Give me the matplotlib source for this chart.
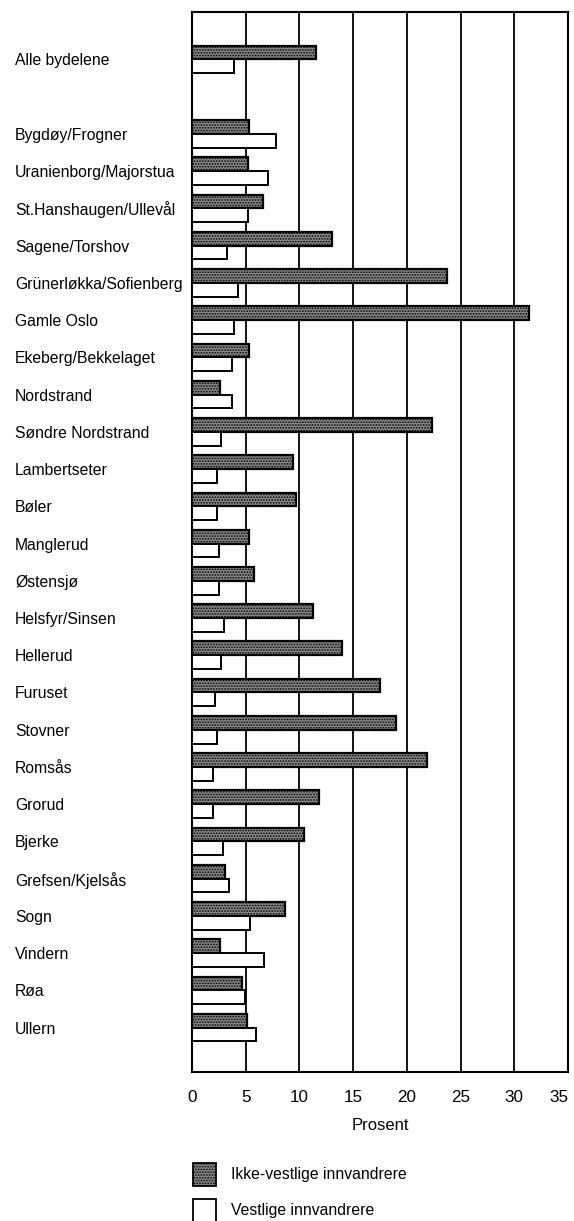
import matplotlib
matplotlib.use("Agg")
import matplotlib.pyplot as plt
from matplotlib.patches import Rectangle
import numpy as np

plt.rcParams['font.family'] = ['Liberation Sans', 'DejaVu Sans']
plt.rcParams['hatch.linewidth'] = 0.8

categories = [
    "Alle bydelene",
    "Bygdøy/Frogner", "Uranienborg/Majorstua", "St.Hanshaugen/Ullevål",
    "Sagene/Torshov", "Grünerløkka/Sofienberg", "Gamle Oslo",
    "Ekeberg/Bekkelaget", "Nordstrand", "Søndre Nordstrand", "Lambertseter",
    "Bøler", "Manglerud", "Østensjø", "Helsfyr/Sinsen", "Hellerud",
    "Furuset", "Stovner", "Romsås", "Grorud", "Bjerke", "Grefsen/Kjelsås",
    "Sogn", "Vindern", "Røa", "Ullern",
]
ikke_vestlige = [11.5, 5.3, 5.2, 6.6, 13.0, 23.7, 31.4, 5.3, 2.6, 22.3, 9.4,
                 9.7, 5.3, 5.8, 11.3, 14.0, 17.5, 19.0, 21.9, 11.8, 10.4, 3.1,
                 8.7, 2.6, 4.7, 5.1]
vestlige = [3.9, 7.8, 7.1, 5.2, 3.3, 4.3, 3.9, 3.7, 3.7, 2.7, 2.3, 2.3, 2.5,
            2.5, 3.0, 2.7, 2.1, 2.3, 2.0, 2.0, 2.9, 3.4, 5.4, 6.7, 4.9, 6.0]
xticks = [0, 5, 10, 15, 20, 25, 30, 35]
legend_labels = ["Ikke-vestlige innvandrere", "Vestlige innvandrere"]

W, H = 574, 1221
fig = plt.figure(figsize=(W / 100, H / 100), dpi=100)
ax = fig.add_axes([192 / W, 1 - 1072 / H, (568 - 192) / W, (1072 - 11.7) / H])

# positions: overall row, one empty row, then districts
pos = np.array([0] + list(range(2, len(categories) + 1)), dtype=float)
h = 0.37
dark_face = '#858585'
ax.barh(pos - h / 2, ikke_vestlige, height=h, color=dark_face,
        edgecolor='black', linewidth=1.6, hatch='......', zorder=3)
ax.barh(pos + h / 2, vestlige, height=h, color='white',
        edgecolor='black', linewidth=1.4, zorder=3)

ax.set_xlim(0, 35)
ax.set_ylim(pos[-1] + 1.19, -1.28)
ax.set_xticks(xticks)
ax.set_xticklabels([str(t) for t in xticks], fontsize=12.3)
ax.get_xticklabels()[-1].set_horizontalalignment('right')
ax.get_xticklabels()[-1].set_x(35)
ax.set_yticks(pos)
ax.set_yticklabels(categories, fontsize=11.3, ha='left')
ax.tick_params(axis='y', length=0, pad=(192 - 15) * 0.72)
ax.tick_params(axis='x', length=0, pad=13)
for x in xticks[1:-1]:
    ax.axvline(x, color='black', linewidth=1.3, zorder=1)
for s in ax.spines.values():
    s.set_linewidth(1.5)
ax.set_xlabel("Prosent", fontsize=12, labelpad=9)

# legend drawn manually
sq = 23
items = [(1163, dark_face, '......'), (1199, 'white', None)]
for (ytop, fc, hatch), lab in zip(items, legend_labels):
    r = Rectangle((193 / W, 1 - (ytop + sq) / H), sq / W, sq / H,
                  transform=fig.transFigure, facecolor=fc, edgecolor='black',
                  linewidth=1.3, hatch=hatch)
    fig.add_artist(r)
    fig.text(231 / W, 1 - (ytop + sq / 2) / H, lab, fontsize=11.3,
             va='center', ha='left')

fig.savefig("out.png", dpi=100)
